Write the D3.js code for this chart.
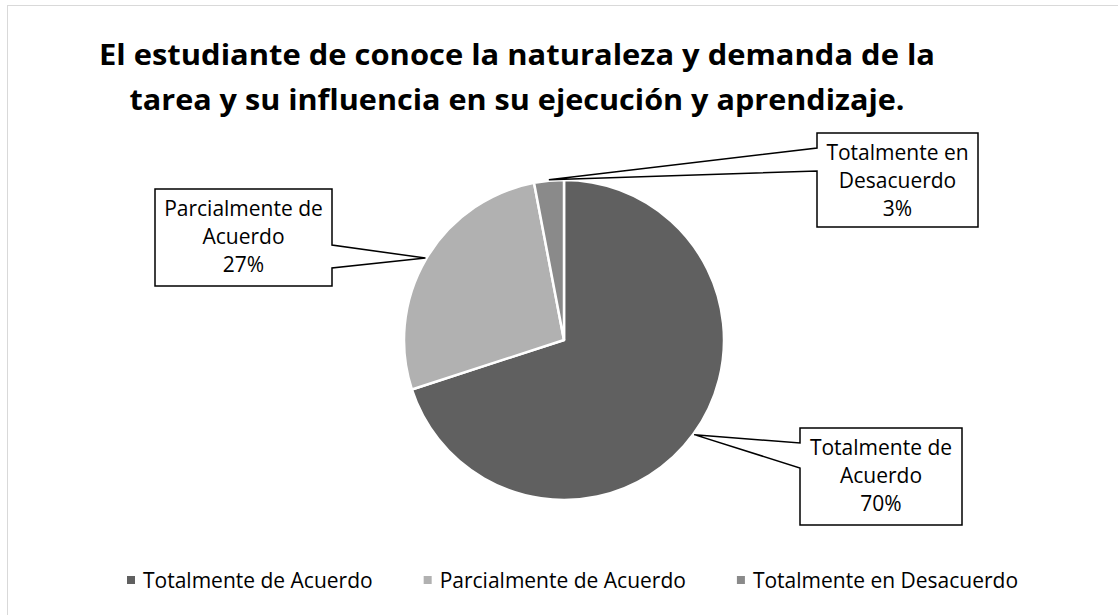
<!DOCTYPE html>
<html>
<head>
<meta charset="utf-8">
<script src="https://cdn.jsdelivr.net/npm/d3@7"></script>
<style>
  body { margin: 0; background: #fff; }
  text { font-family: "Open Sans", "Noto Sans", sans-serif; fill: #000; }
</style>
</head>
<body>
<div id="chart"></div>
<script>
// data
var categories = ["Totalmente de Acuerdo", "Parcialmente de Acuerdo", "Totalmente en Desacuerdo"];
var values = [70, 27, 3];
var labelLines = [["Totalmente de", "Acuerdo"], ["Parcialmente de", "Acuerdo"], ["Totalmente en", "Desacuerdo"]];
var titleLines = ["El estudiante de conoce la naturaleza y demanda de la",
  "tarea y su influencia en su ejecución y aprendizaje."];
var colors = ["#606060", "#b1b1b1", "#8a8a8a"];

var width = 1118, height = 615;
var cx = 564, cy = 340, radius = 160;

// callout boxes (layout only): box rect, side of the pointer, pointer joins
var callouts = [
  { x: 800, y: 428, w: 162, h: 97, side: "left", j1: 15, j2: 40 },
  { x: 155, y: 189, w: 177, h: 97, side: "right", j1: 56, j2: 79 },
  { x: 817, y: 133, w: 161, h: 94, side: "left", j1: 15, j2: 38 }
];

var svg = d3.select("#chart")
  .append("svg")
  .attr("width", width)
  .attr("height", height);

// chart frame
svg.append("rect")
  .attr("x", 7.5).attr("y", 5.5)
  .attr("width", 1130).attr("height", 640)
  .attr("fill", "none")
  .attr("stroke", "#d9d9d9")
  .attr("stroke-width", 1);

// title
var titleW = [836, 775];
svg.selectAll(".title")
  .data(titleLines)
  .enter()
  .append("text")
  .attr("class", "title")
  .attr("x", 517)
  .attr("y", function (d, i) { return 65 + i * 45; })
  .attr("text-anchor", "middle")
  .style("font-size", "29px")
  .style("font-weight", "bold")
  .attr("textLength", function (d, i) { return titleW[i]; })
  .attr("lengthAdjust", "spacingAndGlyphs")
  .text(function (d) { return d; });

// pie
var pie = d3.pie().sort(null).value(function (d) { return d; });
var arcs = pie(values);
var arc = d3.arc().innerRadius(0).outerRadius(radius);

var g = svg.append("g")
  .attr("transform", "translate(" + cx + "," + cy + ")");

g.selectAll("path.slice")
  .data(arcs)
  .enter()
  .append("path")
  .attr("class", "slice")
  .attr("d", arc)
  .attr("fill", function (d, i) { return colors[i]; })
  .attr("stroke", "#fff")
  .attr("stroke-width", 2.5)
  .attr("stroke-linejoin", "round");

// callouts
arcs.forEach(function (d, i) {
  var c = callouts[i];
  var a = (d.startAngle + d.endAngle) / 2;
  var tx = cx + (radius + 1) * Math.sin(a);
  var ty = cy - (radius + 1) * Math.cos(a);
  var p = d3.path();
  if (c.side === "left") {
    p.moveTo(c.x, c.y);
    p.lineTo(c.x + c.w, c.y);
    p.lineTo(c.x + c.w, c.y + c.h);
    p.lineTo(c.x, c.y + c.h);
    p.lineTo(c.x, c.y + c.j2);
    p.lineTo(tx, ty);
    p.lineTo(c.x, c.y + c.j1);
    p.closePath();
  } else {
    p.moveTo(c.x, c.y);
    p.lineTo(c.x + c.w, c.y);
    p.lineTo(c.x + c.w, c.y + c.j1);
    p.lineTo(tx, ty);
    p.lineTo(c.x + c.w, c.y + c.j2);
    p.lineTo(c.x + c.w, c.y + c.h);
    p.lineTo(c.x, c.y + c.h);
    p.closePath();
  }
  svg.append("path")
    .attr("d", p.toString())
    .attr("fill", "#fff")
    .attr("stroke", "#000")
    .attr("stroke-width", 1.5)
    .attr("stroke-linejoin", "miter");

  var lines = labelLines[i].concat([Math.round(d.data) + "%"]);
  svg.append("g")
    .selectAll("text")
    .data(lines)
    .enter()
    .append("text")
    .attr("x", c.x + c.w / 2)
    .attr("y", function (t, k) { return c.y + 27 + k * 28; })
    .attr("text-anchor", "middle")
    .style("font-size", "21px")
    .text(function (t) { return t; });
});

// legend
var legend = svg.append("g").attr("class", "legend");
var lx = 127;
categories.forEach(function (name, i) {
  legend.append("rect")
    .attr("x", lx).attr("y", 576)
    .attr("width", 8).attr("height", 8)
    .attr("fill", colors[i]);
  var t = legend.append("text")
    .attr("x", lx + 16)
    .attr("y", 588)
    .style("font-size", "21px")
    .text(name);
  lx += 16 + t.node().getComputedTextLength() + 51;
});
</script>
</body>
</html>
